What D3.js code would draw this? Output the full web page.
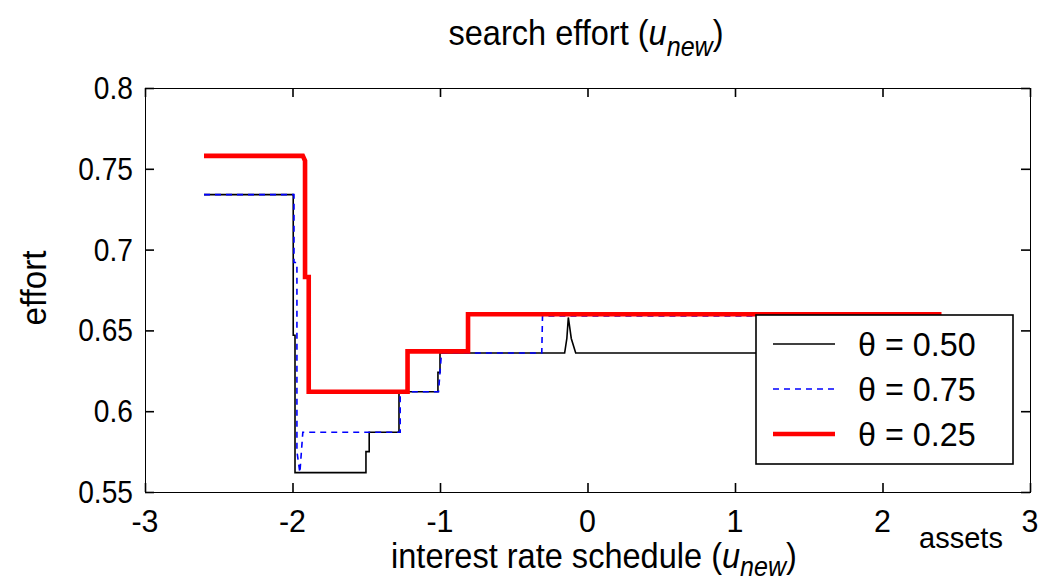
<!DOCTYPE html>
<html>
<head>
<meta charset="utf-8">
<script src="https://cdn.jsdelivr.net/npm/d3@7"></script>
<style>
  html, body { margin: 0; padding: 0; background: #fff; }
  svg { display: block; }
  text { font-family: "Liberation Sans", Arial, sans-serif; fill: #000; }
</style>
</head>
<body>
<svg id="chart" width="1042" height="586"></svg>
<script>
// Step paths of optimal search effort against assets, one per theta value
const assetsTheta050 = [-2.6, -1.995, -1.995, -1.983, -1.983, -1.502, -1.502, -1.48, -1.48, -1.278, -1.278, -1.014, -1.014, -1.0, -1.0, -0.155, -0.14, -0.13, -0.11, -0.08, 2.4];
const effortTheta050 = [0.734, 0.734, 0.647, 0.647, 0.562, 0.562, 0.575, 0.575, 0.587, 0.587, 0.612, 0.612, 0.624, 0.624, 0.636, 0.636, 0.645, 0.658, 0.645, 0.636, 0.636];

const assetsTheta075 = [-2.6, -1.99, -1.99, -1.97, -1.97, -1.95, -1.93, -1.27, -1.27, -1.01, -0.99, -0.31, -0.305, 2.4];
const effortTheta075 = [0.734, 0.734, 0.692, 0.692, 0.575, 0.562, 0.587, 0.587, 0.612, 0.612, 0.636, 0.636, 0.659, 0.659];

const assetsTheta025 = [-2.6, -1.93, -1.915, -1.915, -1.89, -1.89, -1.22, -1.22, -0.81, -0.81, 2.4];
const effortTheta025 = [0.758, 0.758, 0.755, 0.683, 0.683, 0.612, 0.612, 0.637, 0.637, 0.66, 0.66];

const seriesLabels = ["\u03B8 = 0.50", "\u03B8 = 0.75", "\u03B8 = 0.25"];
const xTicks = [-3, -2, -1, 0, 1, 2, 3];
const yTicks = [0.55, 0.6, 0.65, 0.7, 0.75, 0.8];
const yTickLabels = ["0.55", "0.6", "0.65", "0.7", "0.75", "0.8"];

const svg = d3.select("#chart");
const m = { left: 145, right: 1030, top: 88, bottom: 492 };
const x = d3.scaleLinear().domain([-3, 3]).range([m.left, m.right]);
const y = d3.scaleLinear().domain([0.55, 0.8]).range([m.bottom, m.top]);

function label(g, px, py, str, opts = {}) {
  const sx = opts.sx == null ? 1 : opts.sx;
  const t = g.append("text")
    .attr("transform", `translate(${px},${py})` + (opts.rot ? ` rotate(${opts.rot})` : "") + ` scale(${sx},1)`)
    .attr("font-size", opts.size || 32)
    .attr("text-anchor", opts.anchor || "middle");
  if (typeof str === "string") t.text(str);
  else str(t);
  return t;
}

// Lines
const line = d3.line().x(d => x(d[0])).y(d => y(d[1]));
const series = [
  { xs: assetsTheta050, ys: effortTheta050, color: "#000", width: 1.6, dash: null },
  { xs: assetsTheta075, ys: effortTheta075, color: "#0000ff", width: 1.6, dash: "6,5" },
  { xs: assetsTheta025, ys: effortTheta025, color: "#ff0000", width: 4.6, dash: null }
];
const plot = svg.append("g");
series.forEach(s => {
  plot.append("path")
    .datum(d3.zip(s.xs, s.ys))
    .attr("d", line)
    .attr("fill", "none")
    .attr("stroke", s.color)
    .attr("stroke-width", s.width)
    .attr("stroke-dasharray", s.dash)
    .attr("stroke-linejoin", "miter");
});

// Axes box with inward ticks on all four sides
const tickLen = 9;
const axBottom = d3.axisBottom(x).tickValues(xTicks).tickSize(-tickLen).tickFormat("");
const axTop = d3.axisTop(x).tickValues(xTicks).tickSize(-tickLen).tickFormat("");
const axLeft = d3.axisLeft(y).tickValues(yTicks).tickSize(-tickLen).tickFormat("");
const axRight = d3.axisRight(y).tickValues(yTicks).tickSize(-tickLen).tickFormat("");
[
  [axBottom, `translate(0,${m.bottom})`],
  [axTop, `translate(0,${m.top})`],
  [axLeft, `translate(${m.left},0)`],
  [axRight, `translate(${m.right},0)`]
].forEach(([ax, tr]) => {
  const g = svg.append("g").attr("transform", tr).call(ax);
  g.selectAll("path,line").attr("stroke", "#000").attr("stroke-width", 1.6);
  g.select(".domain").attr("shape-rendering", "crispEdges");
});

// Tick labels
const labels = svg.append("g");
xTicks.forEach(v => label(labels, x(v), 532, v < 0 ? "-" + Math.abs(v) : String(v), { sx: 0.95 }));
yTicks.forEach((v, i) => label(labels, m.left - 12, y(v) + 11, yTickLabels[i], { anchor: "end", sx: 0.88 }));

// Axis titles
label(labels, 961, 548, "assets", { size: 29 });
label(labels, 46, 288, "effort", { rot: -90, size: 35, sx: 0.95 });
label(labels, 586, 45, t => {
  t.append("tspan").text("search effort (");
  t.append("tspan").attr("font-style", "italic").text("u");
  t.append("tspan").attr("font-style", "italic").attr("font-size", 27).attr("dy", 11).text("new");
  t.append("tspan").attr("dy", -11).text(")");
}, { size: 35, sx: 0.93 });
label(labels, 594, 568, t => {
  t.append("tspan").text("interest rate schedule (");
  t.append("tspan").attr("font-style", "italic").text("u");
  t.append("tspan").attr("font-style", "italic").attr("font-size", 27).attr("dy", 8).text("new");
  t.append("tspan").attr("dy", -8).text(")");
}, { size: 35, sx: 0.93 });

// Legend
const lg = svg.append("g");
lg.append("rect")
  .attr("x", 756).attr("y", 315).attr("width", 257).attr("height", 149)
  .attr("fill", "#fff").attr("stroke", "#000").attr("stroke-width", 1.6);
series.forEach((s, i) => {
  const cy = 344 + i * 45;
  lg.append("line")
    .attr("x1", 773).attr("x2", 835).attr("y1", cy).attr("y2", cy)
    .attr("stroke", s.color).attr("stroke-width", s.width)
    .attr("stroke-dasharray", s.dash);
  label(lg, 858, cy + 12, seriesLabels[i], { anchor: "start", size: 34, sx: 0.95 });
});
</script>
</body>
</html>
